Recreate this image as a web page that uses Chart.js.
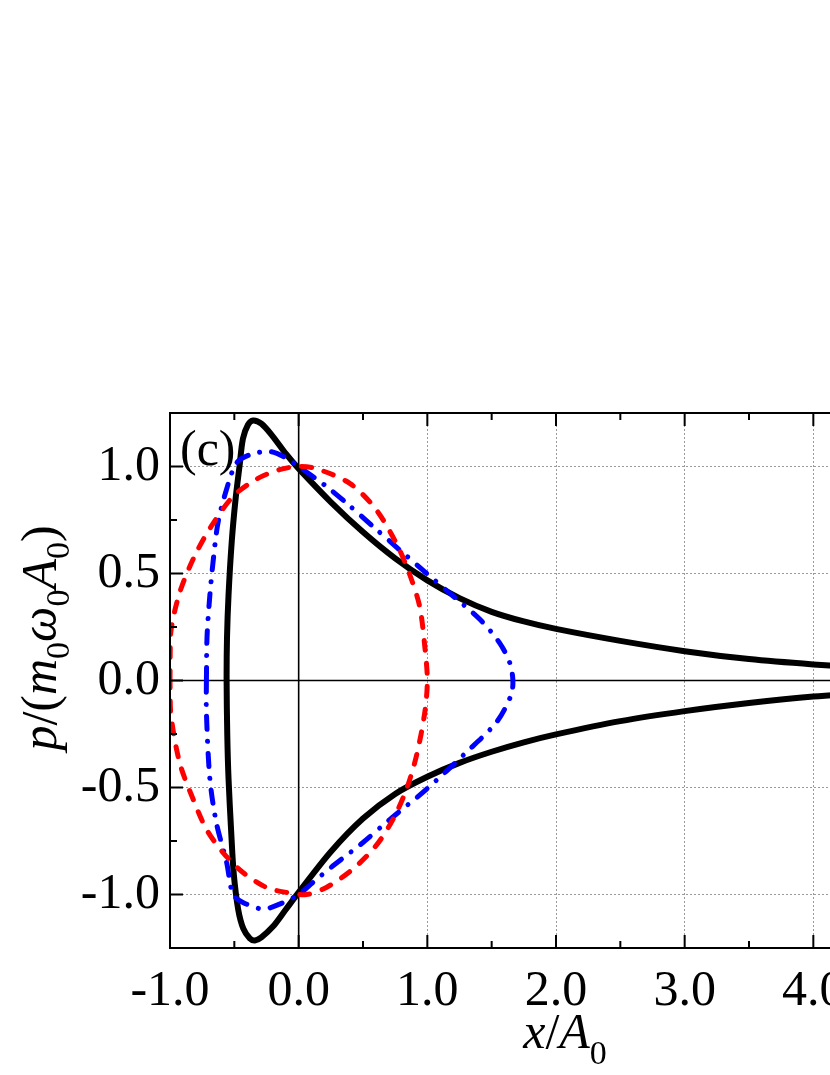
<!DOCTYPE html>
<html>
<head>
<meta charset="utf-8">
<script src="https://cdn.jsdelivr.net/npm/chart.js@4.4.0/dist/chart.umd.min.js"></script>
<style>
html, body { margin: 0; padding: 0; background: #fff; overflow: hidden; }
#wrap { position: absolute; left: 0; top: 0; width: 1000px; height: 1075px; }
</style>
</head>
<body>
<div id="wrap"><canvas id="phase" width="1000" height="1075"></canvas></div>
<script>
// phase space points: x/A0 and p/(m0 w0 A0)
const redX = [-1.0, -0.995, -0.925, -0.81, -0.68, -0.51, -0.33, -0.15, 0.0, 0.137, 0.40, 0.60, 0.76, 0.86, 0.94, 0.98, 1.0,
  0.98, 0.915, 0.837, 0.733, 0.60, 0.42, 0.215, 0.06, -0.096, -0.251, -0.433, -0.588, -0.717, -0.82, -0.925, -0.995, -1.0];
const redP = [0, 0.22, 0.41, 0.58, 0.72, 0.86, 0.94, 0.985, 1.0, 0.99, 0.92, 0.80, 0.64, 0.50, 0.347, 0.16, 0,
  -0.15, -0.353, -0.509, -0.649, -0.773, -0.882, -0.967, -1.0, -0.99, -0.967, -0.897, -0.804, -0.695, -0.555, -0.384, -0.15, 0];

const blueX = [-0.717, -0.712, -0.69, -0.666, -0.627, -0.562, -0.484, -0.38, -0.225, -0.096, 0.0, 0.215, 0.37, 0.577, 0.785, 0.99, 1.17, 1.41, 1.56, 1.64, 1.665,
  1.65, 1.536, 1.30, 0.99, 0.707, 0.50, 0.267, 0.11, 0.0, -0.148, -0.277, -0.433, -0.51, -0.56, -0.64, -0.69, -0.717, -0.717];
const blueP = [0, 0.207, 0.40, 0.55, 0.737, 0.89, 1.016, 1.055, 1.07, 1.04, 1.0, 0.907, 0.83, 0.72, 0.61, 0.503, 0.41, 0.285, 0.177, 0.084, 0,
  -0.07, -0.196, -0.337, -0.51, -0.65, -0.757, -0.866, -0.944, -1.0, -1.045, -1.068, -1.037, -1.0, -0.85, -0.664, -0.46, -0.15, 0];

const blackX = [5.0, 4.5, 4.0, 3.5, 3.0, 2.5, 2.0, 1.75, 1.5, 1.25, 1.0, 0.75, 0.5, 0.25, 0.0, -0.1, -0.2, -0.29, -0.355, -0.394, -0.433, -0.46, -0.49, -0.52, -0.545, -0.557,
  -0.56, -0.555, -0.545, -0.525, -0.505, -0.47, -0.43, -0.38, -0.34, -0.29, -0.2, -0.1, 0.0, 0.25, 0.5, 0.75, 1.0, 1.25, 1.5, 1.75, 2.0, 2.5, 3.0, 3.5, 4.0, 4.5, 5.0];
const blackP = [0.042, 0.056, 0.075, 0.10, 0.137, 0.185, 0.241, 0.276, 0.321, 0.385, 0.468, 0.571, 0.694, 0.834, 0.99, 1.06, 1.14, 1.2, 1.215, 1.195, 1.13, 1.0, 0.85, 0.65, 0.4, 0.2,
  0.0, -0.25, -0.46, -0.7, -0.9, -1.07, -1.16, -1.205, -1.215, -1.2, -1.15, -1.07, -0.99, -0.80, -0.645, -0.53, -0.45, -0.385, -0.333, -0.289, -0.252, -0.19, -0.143, -0.105, -0.075, -0.056, -0.042];

const xTicks = [-1, 0, 1, 2, 3, 4, 5];
const xTickLabels = ['-1.0', '0.0', '1.0', '2.0', '3.0', '4.0', '5.0'];
const xMinor = [-0.5, 0.5, 1.5, 2.5, 3.5, 4.5];
const yTicks = [-1, -0.5, 0, 0.5, 1];
const yTickLabels = ['-1.0', '-0.5', '0.0', '0.5', '1.0'];
const yMinor = [-0.75, -0.25, 0.25, 0.75];

const pts = (xs, ps) => xs.map((v, i) => ({ x: v, y: ps[i] }));
const SERIF = '"Liberation Serif", "Times New Roman", serif';

// draws a run of text pieces (italic / subscript) starting at x, baseline y
function richText(ctx, parts, x, y) {
  let cx = x;
  parts.forEach(p => {
    ctx.font = p.f;
    ctx.fillText(p.t, cx, y + (p.dy || 0));
    cx += ctx.measureText(p.t).width;
  });
}
function richWidth(ctx, parts) {
  let w = 0;
  parts.forEach(p => { ctx.font = p.f; w += ctx.measureText(p.t).width; });
  return w;
}

const IT = 'italic 50px ' + SERIF, RM = '50px ' + SERIF, SUB = '34px ' + SERIF;
const yTitle = [
  { t: 'p', f: IT }, { t: '/(', f: RM }, { t: 'm', f: IT }, { t: '0', f: SUB, dy: 13 },
  { t: 'ω', f: IT }, { t: '0', f: SUB, dy: 13 }, { t: 'A', f: IT }, { t: '0', f: SUB, dy: 13 }, { t: ')', f: RM }
];
const xTitle = [{ t: 'x', f: IT }, { t: '/', f: RM }, { t: 'A', f: IT }, { t: '0', f: SUB, dy: 16 }];

const frame = {
  id: 'frame',
  beforeDatasetsDraw(chart) {
    const { ctx, chartArea: a, scales: { x, y } } = chart;
    ctx.save();
    ctx.strokeStyle = '#000';
    ctx.lineWidth = 1.6;
    ctx.beginPath();
    const x0 = x.getPixelForValue(0), y0 = y.getPixelForValue(0);
    ctx.moveTo(x0, a.top); ctx.lineTo(x0, a.bottom);
    ctx.moveTo(a.left, y0); ctx.lineTo(a.right, y0);
    ctx.stroke();
    ctx.restore();
  },
  afterDraw(chart) {
    const { ctx, chartArea: a, scales: { x, y } } = chart;
    ctx.save();
    ctx.strokeStyle = '#000';
    ctx.lineWidth = 2;
    ctx.strokeRect(a.left, a.top, a.right - a.left, a.bottom - a.top);
    ctx.beginPath();
    const tx = (v, len) => {
      const px = x.getPixelForValue(v);
      ctx.moveTo(px, a.bottom); ctx.lineTo(px, a.bottom - len);
      ctx.moveTo(px, a.top); ctx.lineTo(px, a.top + len);
    };
    const ty = (v, len) => {
      const py = y.getPixelForValue(v);
      ctx.moveTo(a.left, py); ctx.lineTo(a.left + len, py);
      ctx.moveTo(a.right, py); ctx.lineTo(a.right - len, py);
    };
    xTicks.forEach(v => tx(v, 13));
    xMinor.forEach(v => tx(v, 7));
    yTicks.forEach(v => ty(v, 13));
    yMinor.forEach(v => ty(v, 7));
    ctx.stroke();

    ctx.fillStyle = '#000';
    ctx.textBaseline = 'alphabetic';
    ctx.textAlign = 'left';
    ctx.font = RM;
    ctx.fillText('(c)', a.left + 10, a.top + 52);

    const xw = richWidth(ctx, xTitle);
    richText(ctx, xTitle, 565 - xw / 2, 1048);

    ctx.translate(56, 638);
    ctx.rotate(-Math.PI / 2);
    const yw = richWidth(ctx, yTitle);
    richText(ctx, yTitle, -yw / 2, 0);
    ctx.restore();
  }
};

new Chart(document.getElementById('phase'), {
  type: 'scatter',
  data: {
    datasets: [
      {
        data: pts(redX, redP), showLine: true, borderColor: '#ff0000', borderWidth: 5,
        borderDash: [10, 13], borderCapStyle: 'round', borderJoinStyle: 'round'
      },
      {
        data: pts(blueX, blueP), showLine: true, borderColor: '#0000ff', borderWidth: 5,
        borderDash: [13, 12, 0.01, 12], borderCapStyle: 'round', borderJoinStyle: 'round'
      },
      {
        data: pts(blackX, blackP), showLine: true, borderColor: '#000000', borderWidth: 6,
        borderJoinStyle: 'round'
      }
    ]
  },
  options: {
    responsive: false,
    animation: false,
    layout: { padding: { top: 413, right: 58, left: 0, bottom: 0 } },
    plugins: { legend: { display: false }, tooltip: { enabled: false } },
    elements: { point: { radius: 0, hoverRadius: 0 }, line: { tension: 0.3 } },
    scales: {
      x: {
        type: 'linear', min: -1, max: 5,
        afterBuildTicks: s => { s.ticks = xTicks.map(v => ({ value: v })); },
        afterFit: s => { s.height = 127; },
        grid: { color: '#9a9a9a', lineWidth: 1, drawTicks: false },
        border: { display: false, dash: [2, 2] },
        ticks: {
          padding: 14, color: '#000', maxRotation: 0, autoSkip: false,
          font: { family: SERIF, size: 50 },
          callback: v => xTickLabels[xTicks.indexOf(v)]
        }
      },
      y: {
        type: 'linear', min: -1.25, max: 1.25,
        afterBuildTicks: s => { s.ticks = yTicks.map(v => ({ value: v })); },
        afterFit: s => { s.width = 170; },
        grid: { color: '#9a9a9a', lineWidth: 1, drawTicks: false },
        border: { display: false, dash: [2, 2] },
        ticks: {
          padding: 10, color: '#000', autoSkip: false,
          font: { family: SERIF, size: 50 },
          callback: v => yTickLabels[yTicks.indexOf(v)]
        }
      }
    }
  },
  plugins: [frame]
});
</script>
</body>
</html>
